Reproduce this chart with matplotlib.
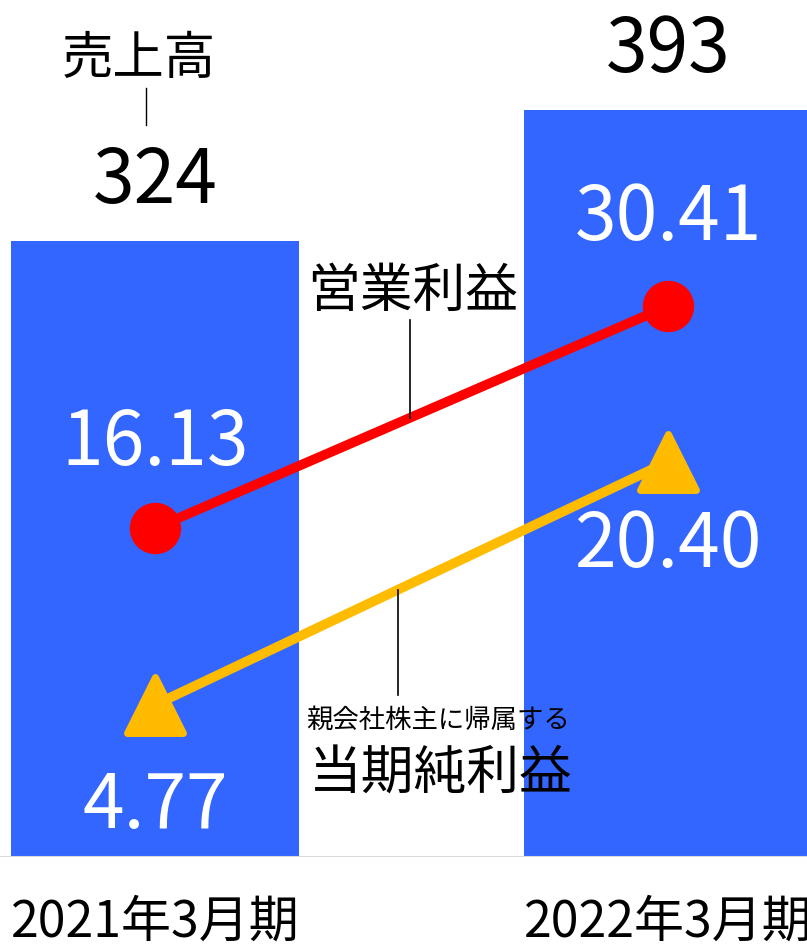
import numpy as np
import matplotlib.pyplot as plt
from matplotlib.markers import MarkerStyle

# データ
periods = ['2021年3月期', '2022年3月期']
sales = [324, 393]
op_profit = [16.13, 30.41]
net_profit = [4.77, 20.40]

JP = ['Noto Sans CJK JP', 'DejaVu Sans']

blue = '#3366ff'
red = '#ff0000'
yellow = '#ffbb00'

fig = plt.figure(figsize=(8.07, 9.47), dpi=100)
ax = fig.add_axes([0, 90 / 947, 1, 857 / 947])
ax2 = ax.twinx()

x = np.arange(len(periods))
ax.bar(x, sales, width=0.56, color=blue, zorder=1)
ax.set_xlim(-155 / 513, 652 / 513)
ax.set_ylim(0, 857 / 1.901)
ax.axhline(0, color='#d9d9d9', lw=1.5, zorder=3)

ax2.plot(x, op_profit, color=red, lw=7, marker='o', ms=36,
         markeredgecolor=red, solid_capstyle='butt', zorder=4)
ax2.plot(x, net_profit, color=yellow, lw=7,
         marker=MarkerStyle('^', joinstyle='round'), ms=40,
         markeredgewidth=5, markeredgecolor=yellow, solid_capstyle='butt', zorder=4)
ax2.set_ylim(-78 / 15.55, 779 / 15.55)

for a in (ax, ax2):
    a.axis('off')

# 売上高の値
for xi, v in zip(x, sales):
    ax.annotate(f'{v}', (xi, v), xytext=(0, 15), textcoords='offset points',
                ha='center', va='bottom', fontsize=54, family=JP, color='black')
ax.annotate('売上高', xy=(x[0], sales[0]), xytext=(-12, 131), textcoords='offset points',
            ha='center', va='center', fontsize=37, family=JP)

# 利益の値
offsets_op = [(0, 61), (0, 63)]
offsets_net = [(0, -73), (0, -60)]
for xi, v, off in zip(x, op_profit, offsets_op):
    ax2.annotate(f'{v:.2f}', (xi, v), xytext=off, textcoords='offset points',
                 ha='center', va='center', fontsize=54, family=JP, color='white')
for xi, v, off in zip(x, net_profit, offsets_net):
    ax2.annotate(f'{v:.2f}', (xi, v), xytext=off, textcoords='offset points',
                 ha='center', va='center', fontsize=54, family=JP, color='white')

# 系列ラベル
fig.text(413 / 807, 1 - 291 / 947, '営業利益', ha='center', va='center', fontsize=38, family=JP)
fig.text(438 / 807, 1 - 720 / 947, '親会社株主に帰属する', ha='center', va='center', fontsize=19, family=JP)
fig.text(441 / 807, 1 - 774 / 947, '当期純利益', ha='center', va='center', fontsize=38, family=JP)

# 引き出し線
fig.add_artist(plt.Line2D([146 / 807] * 2, [1 - 88 / 947, 1 - 125 / 947], color='black', lw=1))
fig.add_artist(plt.Line2D([410 / 807] * 2, [1 - 320 / 947, 1 - 418 / 947], color='black', lw=1.2))
fig.add_artist(plt.Line2D([398 / 807] * 2, [1 - 590 / 947, 1 - 695 / 947], color='black', lw=1.2))

# 期ラベル
for xi, p in zip(x, periods):
    ax.annotate(p, (xi, 0), xytext=(0, -47), textcoords='offset points',
                ha='center', va='center', fontsize=36, family=JP)

fig.savefig('out.png', dpi=100)
